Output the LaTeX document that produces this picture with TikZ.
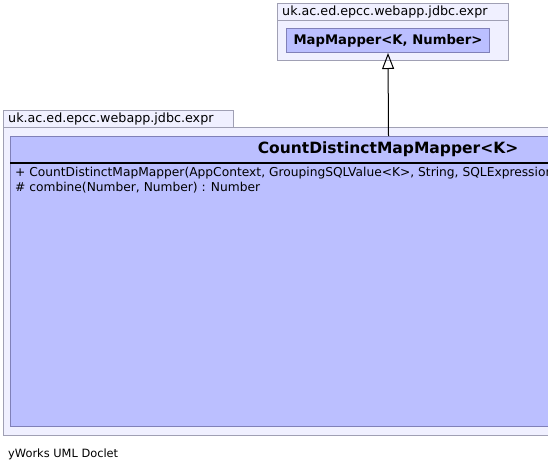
\documentclass[tikz,border=0pt]{standalone}
\usepackage{fontspec}
\setmainfont{DejaVu Sans}
\usetikzlibrary{arrows.meta}
\definecolor{pkgfill}{HTML}{F0F0FF}
\definecolor{pkgline}{HTML}{A0A0B4}
\definecolor{clsfill}{HTML}{BBBFFF}
\definecolor{clsline}{HTML}{8080B8}
\tikzset{
  pkgpart/.style={draw=pkgline, fill=pkgfill, line width=1pt, inner sep=0pt, anchor=north west},
  clsbox/.style={draw=clsline, fill=clsfill, line width=1pt, inner sep=0pt, anchor=north west},
  pkglabel/.style={anchor=west, inner sep=0pt, font=\fontsize{12.7}{14}\selectfont},
  memb/.style={anchor=west, inner sep=0pt, font=\fontsize{12.25}{14}\selectfont},
}
\begin{document}
\begin{tikzpicture}[x=1pt,y=-1pt]
\useasboundingbox (0,0) rectangle (548,472);
\clip (0,0) rectangle (548,472);
\fill[white] (0,0) rectangle (548,472);
% upper package
\node[pkgpart, minimum width=231pt, minimum height=17pt] (tabA) at (277,3) {};
\node[pkgpart, minimum width=231pt, minimum height=40pt] (bodyA) at (277,20) {};
\node[pkglabel] (labA) at (282,11.5) {uk.ac.ed.epcc.webapp.jdbc.expr};
\node[clsbox, minimum width=203pt, minimum height=24pt] (mm) at (286,28) {};
\node[inner sep=0pt, font=\bfseries\fontsize{13.2}{15}\selectfont] (mmt) at (mm.center) {MapMapper<K, Number>};
% lower package
\node[pkgpart, minimum width=230pt, minimum height=17pt] (tabB) at (3,110) {};
\node[pkgpart, minimum width=790pt, minimum height=308pt] (bodyB) at (3,127) {};
\node[pkglabel] (labB) at (8,118.5) {uk.ac.ed.epcc.webapp.jdbc.expr};
\node[clsbox, minimum width=756pt, minimum height=290pt] (cls) at (10,136) {};
\node[inner sep=0pt, font=\bfseries\fontsize{15.5}{17}\selectfont] (clst) at (388,149) {CountDistinctMapMapper<K>};
\draw[line width=2pt] (10,162.5) -- (766,162.5);
\node[memb] (m1) at (15,173) {+\ CountDistinctMapMapper(AppContext, GroupingSQLValue<K>, String, SQLExpression<?>)};
\node[memb] (m2) at (15,188) {\#\ combine(Number, Number) : Number};
% generalization
\draw[line width=1pt, -{Triangle[open, length=16pt, width=12pt]}] (cls.north) -- (mm.south);
% footer
\node[anchor=west, inner sep=0pt, font=\fontsize{11.4}{13}\selectfont] (foot) at (8,454) {yWorks UML Doclet};
\end{tikzpicture}
\end{document}
